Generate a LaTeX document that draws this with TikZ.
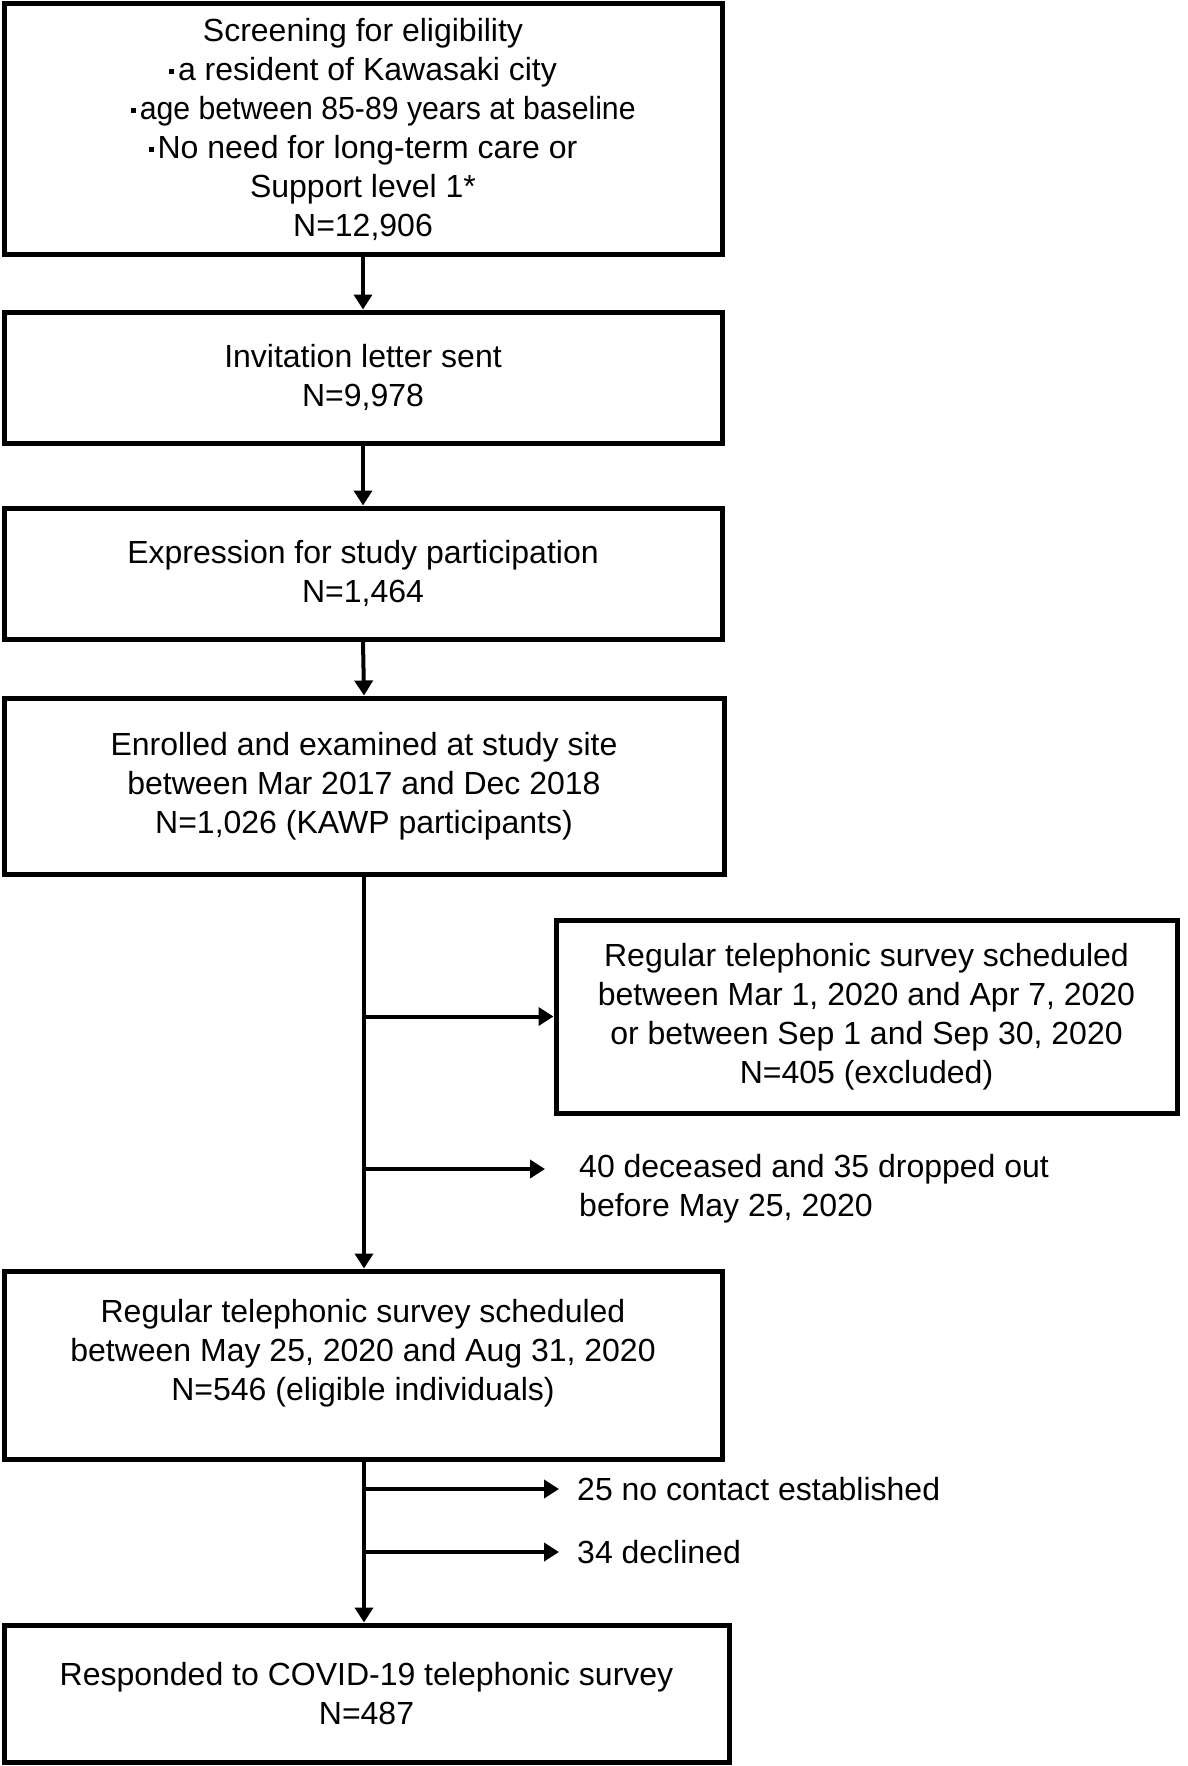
\documentclass[tikz,border=0pt]{standalone}
\usepackage{fontspec}
\setmainfont{Liberation Sans}
\usetikzlibrary{arrows.meta}
\newcommand\bul{\rule[6pt]{5pt}{5pt}\hspace{4pt}}
\begin{document}
\begin{tikzpicture}[x=1pt,y=-1pt,
  font=\fontsize{32}{39}\selectfont,
  box/.style={draw, line width=5pt, inner sep=0pt, align=center},
  conn/.style={line width=4pt, -{Triangle[length=15pt,width=18pt]}},
  lbl/.style={inner sep=0pt, align=left, anchor=west}]
\useasboundingbox (0,0) rectangle (1187,1766);
\node[box, minimum width=718pt, minimum height=250pt] (b1) at (363,129)
  {Screening for eligibility\\ \bul a resident of Kawasaki city\\ \hspace{41pt}\scalebox{0.945}[1]{\bul age between 85-89 years at baseline}\\ \bul No need for long-term care or\\ Support level 1*\\ N=12,906};
\node[box, minimum width=718pt, minimum height=131pt] (b2) at (363,377.5)
  {Invitation letter sent\\ N=9,978};
\node[box, minimum width=718pt, minimum height=131pt] (b3) at (363,573.5)
  {Expression for study participation\\ N=1,464};
\node[box, minimum width=720pt, minimum height=176pt] (b4) at (364,786)
  {Enrolled and examined at study site\\ between Mar 2017 and Dec 2018\\ N=1,026 (KAWP participants)};
\node[box, minimum width=621pt, minimum height=193pt] (b5) at (866.5,1016.5)
  {Regular telephonic survey scheduled\\ between Mar 1, 2020 and Apr 7, 2020\\ or between Sep 1 and Sep 30, 2020\\ N=405 (excluded)};
\node[box, minimum width=718pt, minimum height=188pt] (b6) at (363,1365) {};
\node[inner sep=0pt, align=center] (t6) at (363,1353)
  {Regular telephonic survey scheduled\\ between May 25, 2020 and Aug 31, 2020\\ N=546 (eligible individuals)};
\node[box, minimum width=725pt, minimum height=137pt] (b7) at (366.5,1693.5)
  {Responded to COVID-19 telephonic survey\\ N=487};
\node[lbl] (t1) at (579,1188.5) {40 deceased and 35 dropped out\\ before May 25, 2020};
\node[lbl] (t2) at (577,1489) {25 no contact established};
\node[lbl] (t3) at (577,1552) {34 declined};
\coordinate (v1) at (364,876);
\coordinate (v2) at (364,1461);
\coordinate (e1) at (545,1169);
\coordinate (e2) at (559,1489);
\coordinate (e3) at (559,1552);
\draw[conn] (b1.south) -- (b2.north);
\draw[conn] (b2.south) -- (b3.north);
\draw[conn] (b3.south) -- (b4.north);
\draw[conn] (v1) -- (v1 |- b6.north);
\draw[conn] (v1 |- b5.west) -- (b5.west);
\draw[conn] (v1 |- e1) -- (e1);
\draw[conn] (v2) -- (v2 |- b7.north);
\draw[conn] (v2 |- e2) -- (e2);
\draw[conn] (v2 |- e3) -- (e3);
\end{tikzpicture}
\end{document}
